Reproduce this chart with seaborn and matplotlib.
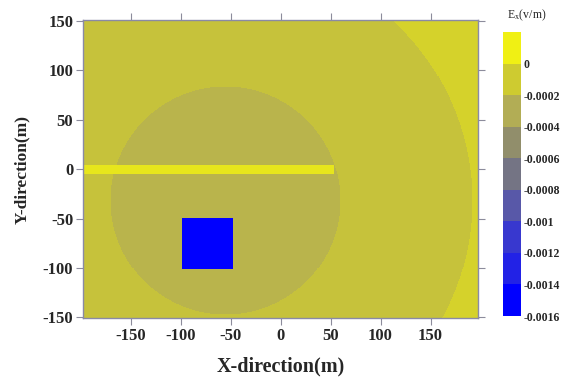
import numpy as np
import pandas as pd
import matplotlib
matplotlib.use('Agg')
import matplotlib.pyplot as plt
from matplotlib.colors import ListedColormap, BoundaryNorm, LinearSegmentedColormap
from matplotlib.cm import ScalarMappable
import seaborn as sns

# Survey area (m)
X_RANGE = [-197, 197]
Y_RANGE = [-150, 150]

# Concentric zones around the anomaly centre: radii (m) and field values (V/m)
CENTER = [-55, -32]
ZONE_RADII = [115, 247]
ZONE_VALUES = [-0.000257, -0.000164, -0.000064]

# Horizontal conductor along y = 0
LINE_X = [-197, 53]
LINE_Y = [-5, 4]
LINE_VALUE = 0.00004

# Conductive block
BLOCK_X = [-98, -48]
BLOCK_Y = [-101, -50]
BLOCK_VALUE = -0.00155

# Colour scale
LEVELS = [-0.0016, -0.0014, -0.0012, -0.001, -0.0008, -0.0006, -0.0004, -0.0002, 0.0, 0.0002]
BAND_COLORS = ['#0000ff', '#2222e6', '#3838cf', '#5858a8', '#747484',
               '#918e6b', '#b2ad55', '#cecb30', '#f0f014']
CBAR_TICKS = LEVELS[:-1]
CBAR_LABELS = ['-0.0016', '-0.0014', '-0.0012', '-0.001', '-0.0008',
               '-0.0006', '-0.0004', '-0.0002', '0']

X_TICKS = [-150, -100, -50, 0, 50, 100, 150]
Y_TICKS = [-150, -100, -50, 0, 50, 100, 150]

sns.set_style('ticks')
plt.rcParams['font.family'] = ['Liberation Serif', 'DejaVu Serif']
plt.rcParams['mathtext.fontset'] = 'stix'

# field on a 1 m grid
xs = np.arange(X_RANGE[0], X_RANGE[1] + 1)
ys = np.arange(Y_RANGE[1], Y_RANGE[0] - 1, -1)
X, Y = np.meshgrid(xs, ys)
R = np.hypot(X - CENTER[0], Y - CENTER[1])
Z = np.full(X.shape, ZONE_VALUES[2])
Z[R < ZONE_RADII[1]] = ZONE_VALUES[1]
Z[R < ZONE_RADII[0]] = ZONE_VALUES[0]
Z[(X >= LINE_X[0]) & (X <= LINE_X[1]) & (Y >= LINE_Y[0]) & (Y <= LINE_Y[1])] = LINE_VALUE
Z[(X >= BLOCK_X[0]) & (X <= BLOCK_X[1]) & (Y >= BLOCK_Y[0]) & (Y <= BLOCK_Y[1])] = BLOCK_VALUE
df = pd.DataFrame(Z, index=ys, columns=xs)

# continuous map anchored on band centres
vmin, vmax = LEVELS[0], LEVELS[-1]
centres = [(a + b) / 2 for a, b in zip(LEVELS[:-1], LEVELS[1:])]
anchors = [(0.0, BAND_COLORS[0])]
anchors += [((c - vmin) / (vmax - vmin), col) for c, col in zip(centres, BAND_COLORS)]
anchors += [(1.0, BAND_COLORS[-1])]
field_cmap = LinearSegmentedColormap.from_list('ex', anchors)

fig = plt.figure(figsize=(5.69, 3.79), dpi=100)
ax = fig.add_axes([0.1459, 0.161, 0.6943, 0.786])
cax = fig.add_axes([0.884, 0.1662, 0.032, 0.7494])

sns.heatmap(df, ax=ax, cmap=field_cmap, vmin=vmin, vmax=vmax, cbar=False,
            xticklabels=False, yticklabels=False, rasterized=True)

for sp in ax.spines.values():
    sp.set_visible(True)
    sp.set_color('#8a8aa6')
    sp.set_linewidth(1.0)

ax.set_xticks([v - xs[0] + 0.5 for v in X_TICKS])
ax.set_xticklabels([str(v) for v in X_TICKS], fontweight='bold', fontsize=12, rotation=0)
ax.set_yticks([ys[0] - v + 0.5 for v in Y_TICKS])
ax.set_yticklabels([str(v) for v in Y_TICKS], fontweight='bold', fontsize=12, rotation=0)
ax.tick_params(direction='out', length=5, width=0.8, color='#8c8c9c',
               top=True, right=True, labeltop=False, labelright=False, pad=2)

ax.set_xlabel('X-direction(m)', fontsize=14.5, fontweight='bold', labelpad=9)
ax.set_ylabel('Y-direction(m)', fontsize=12.5, fontweight='bold', labelpad=9)

sm = ScalarMappable(norm=BoundaryNorm(LEVELS, len(BAND_COLORS)), cmap=ListedColormap(BAND_COLORS))
cb = fig.colorbar(sm, cax=cax)
cb.outline.set_visible(False)
cax.minorticks_off()
cax.set_yticks(CBAR_TICKS, labels=CBAR_LABELS)
cax.yaxis.get_offset_text().set_visible(False)
cax.tick_params(length=0, pad=2)
for t in cax.get_yticklabels():
    t.set_fontweight('bold')
    t.set_fontsize(8.5)

fig.text(0.926, 1 - 15 / 379, r'E$_\mathrm{x}$(v/m)', ha='center', va='center', fontsize=8.5)

fig.savefig('out.png', dpi=100)
